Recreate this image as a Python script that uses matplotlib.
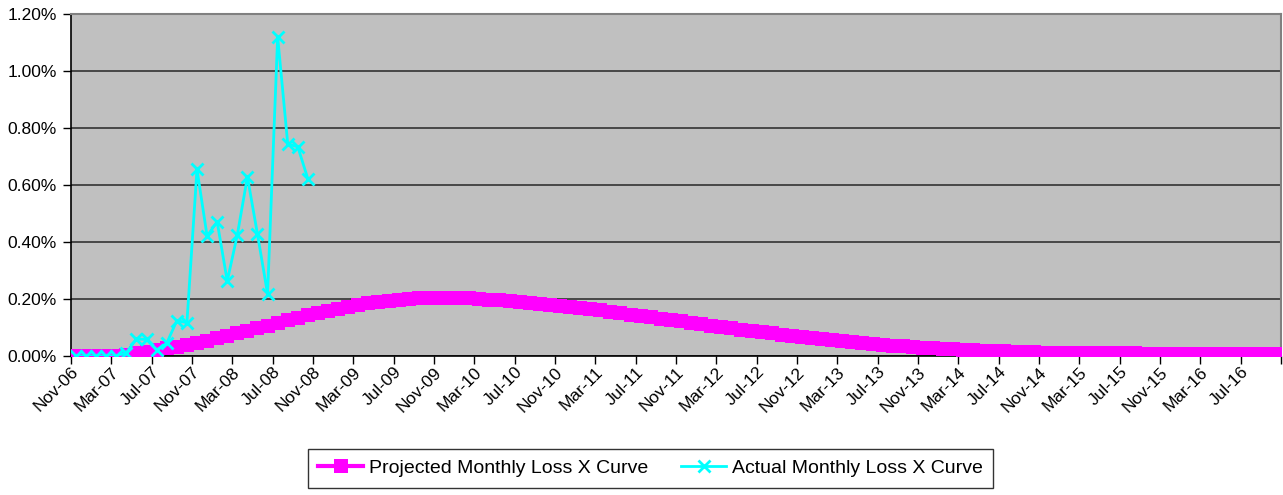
import numpy as np
import matplotlib
matplotlib.use("Agg")
import matplotlib.pyplot as plt
import matplotlib.transforms as mtransforms
from matplotlib.ticker import FuncFormatter, FixedLocator

plt.rcParams['font.family'] = ['Liberation Sans', 'DejaVu Sans']

# Month labels, Nov-06 .. Oct-16 (120 months)
month_names = ["Jan", "Feb", "Mar", "Apr", "May", "Jun",
               "Jul", "Aug", "Sep", "Oct", "Nov", "Dec"]
months = []
for k in range(120):
    m = (10 + k) % 12
    y = 6 + (10 + k) // 12
    months.append(f"{month_names[m]}-{y:02d}")

# Projected monthly loss (%)
projected = [
    0.000, 0.000, 0.000, 0.000, 0.001, 0.005, 0.010, 0.015, 0.021, 0.027,
    0.033, 0.039, 0.046, 0.054, 0.062, 0.071, 0.080, 0.089, 0.098, 0.107,
    0.116, 0.125, 0.134, 0.143, 0.151, 0.159, 0.166, 0.173, 0.179, 0.185,
    0.190, 0.194, 0.197, 0.200, 0.202, 0.203, 0.204, 0.204, 0.203, 0.202,
    0.200, 0.198, 0.195, 0.192, 0.189, 0.186, 0.183, 0.180, 0.176, 0.172,
    0.168, 0.164, 0.160, 0.155, 0.150, 0.145, 0.140, 0.136, 0.131, 0.127,
    0.122, 0.117, 0.112, 0.107, 0.102, 0.097, 0.092, 0.088, 0.083, 0.079,
    0.074, 0.070, 0.066, 0.062, 0.058, 0.055, 0.051, 0.048, 0.045, 0.042,
    0.039, 0.036, 0.034, 0.031, 0.029, 0.027, 0.025, 0.023, 0.021, 0.020,
    0.018, 0.017, 0.016, 0.015, 0.014, 0.013, 0.012, 0.012, 0.011, 0.010,
    0.010, 0.010, 0.009, 0.009, 0.009, 0.009, 0.008, 0.008, 0.008, 0.008,
    0.008, 0.008, 0.007, 0.007, 0.007, 0.007, 0.007, 0.007, 0.007, 0.007,
]

# Actual monthly loss (%), Nov-06 .. Oct-08
actual = [
    0.000, 0.000, 0.000, 0.000, 0.000, 0.012, 0.060, 0.058, 0.021, 0.045,
    0.124, 0.117, 0.655, 0.421, 0.471, 0.263, 0.425, 0.629, 0.427, 0.218,
    1.120, 0.744, 0.734, 0.621,
]

tick_step = 4
fsize = 12.5

fig = plt.figure(figsize=(12.83, 4.95), dpi=100)
ax = fig.add_axes([0.0553, 0.2808, 0.9431, 0.6909])
ax.set_facecolor("#C0C0C0")

x_proj = np.arange(len(projected))
x_act = np.arange(len(actual))

ax.plot(x_proj, np.array(projected) / 100, color="#FF00FF", lw=3,
        marker="s", markersize=9.5, markeredgewidth=0,
        label="Projected Monthly Loss X Curve", zorder=3)
ax.plot(x_act, np.array(actual) / 100, color="#00FFFF", lw=2,
        marker="x", markersize=9, markeredgewidth=2,
        label="Actual Monthly Loss X Curve", zorder=4)

ax.set_xlim(-0.5, len(months) - 0.5)
ax.set_ylim(0, 0.012)
ax.set_yticks(np.arange(0, 0.0121, 0.002))
ax.yaxis.set_major_formatter(FuncFormatter(lambda v, p: f"{v * 100:.2f}%"))
ax.grid(axis="y", color="#333333", lw=1.2)
ax.set_axisbelow(True)

# ticks between categories, labels at every 4th month
ax.xaxis.set_major_locator(FixedLocator(np.arange(-0.5, len(months), tick_step)))
ax.set_xticklabels([])
ax.xaxis.set_minor_locator(FixedLocator(np.arange(0, len(months), tick_step)))
ax.set_xticklabels([months[i] for i in range(0, len(months), tick_step)],
                   minor=True, rotation=45, ha="right", rotation_mode="anchor")
ax.tick_params(axis="x", which="major", length=6, width=1, direction="out")
ax.tick_params(axis="x", which="minor", length=0, pad=6, labelsize=fsize)
ax.tick_params(axis="y", length=6, width=1, labelsize=fsize, pad=4)

# nudge the rotated month labels a little to the left
shift = mtransforms.ScaledTranslation(-5 / 100, 0, fig.dpi_scale_trans)
for lbl in ax.get_xticklabels(minor=True):
    lbl.set_transform(lbl.get_transform() + shift)

for s in ["left", "bottom"]:
    ax.spines[s].set_color("black")
    ax.spines[s].set_linewidth(1.2)
for s in ["top", "right"]:
    ax.spines[s].set_color("#808080")
    ax.spines[s].set_linewidth(1.5)

leg = fig.legend(loc="center", bbox_to_anchor=(0.507, 0.0545), ncol=2,
                 frameon=True, fancybox=False, edgecolor="black",
                 fontsize=14, columnspacing=1.7, handlelength=2.3,
                 handletextpad=0.3, borderpad=0.55, borderaxespad=0)
leg.get_frame().set_linewidth(1)

fig.savefig("out.png", dpi=100)
